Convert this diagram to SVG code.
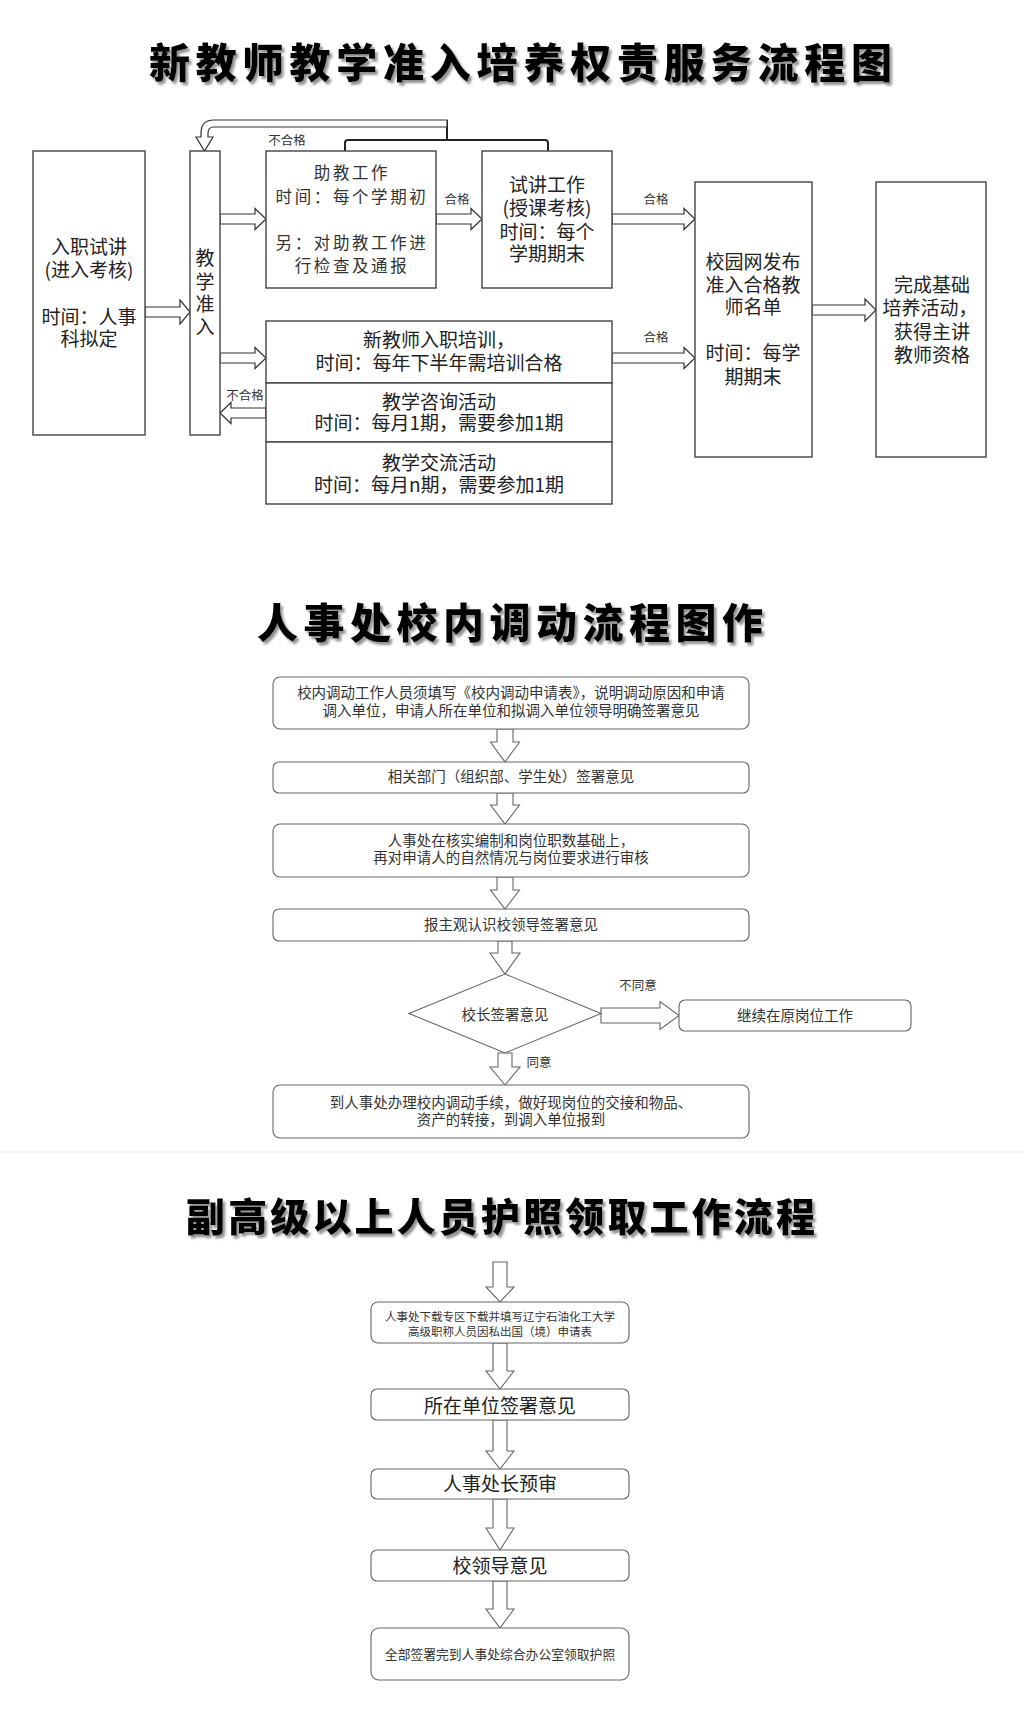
<svg xmlns="http://www.w3.org/2000/svg" width="1024" height="1727" viewBox="0 0 1024 1727">
<defs>
<filter id="sh" x="-5%" y="-20%" width="110%" height="150%">
<feDropShadow dx="2.5" dy="3" stdDeviation="1.2" flood-color="#777" flood-opacity="0.8"/>
</filter>
</defs>
<style>
text{font-family:"Noto Sans CJK SC","Noto Sans",sans-serif;fill:#222;}
.title{font-size:41px;font-weight:900;fill:#000;filter:url(#sh);}
.t19{font-size:19px;text-anchor:middle;}
.t16{font-size:16.5px;text-anchor:middle;letter-spacing:2.6px;fill:#333;}
.t14{font-size:14.5px;text-anchor:middle;fill:#333;}
.t12{font-size:12.5px;text-anchor:middle;fill:#333;}
.t11{font-size:11.5px;text-anchor:middle;fill:#333;}
.t13{font-size:12.8px;text-anchor:middle;fill:#333;}
.box{fill:#fff;stroke:#444;stroke-width:1.4;}
.rbox{fill:#fff;stroke:#666;stroke-width:1.1;}
.arr{fill:#fff;stroke:#333;stroke-width:1.2;stroke-linejoin:miter;}
.arr2{fill:#fff;stroke:#666;stroke-width:1.1;}
.ln{fill:none;stroke:#222;stroke-width:2;}
</style>

<!-- ============ Section 1 ============ -->
<text class="title" x="149" y="78" textLength="743" lengthAdjust="spacing">新教师教学准入培养权责服务流程图</text>

<g id="connectors1">
<polygon class="arr" points="145,307 180,307 180,300 190,312 180,324 180,317 145,317"/>
<polygon class="arr" points="220,214 255,214 255,208.5 266,219 255,229.5 255,224 220,224"/>
<polygon class="arr" points="436,214 471,214 471,208.5 482,219 471,229.5 471,224 436,224"/>
<polygon class="arr" points="612,214 684,214 684,208.5 695,219 684,229.5 684,224 612,224"/>
<polygon class="arr" points="220,353 255,353 255,347.5 266,358 255,368.5 255,363 220,363"/>
<polygon class="arr" points="612,353 684,353 684,347.5 695,358 684,368.5 684,363 612,363"/>
<polygon class="arr" points="812,305 865,305 865,299 876,310 865,321 865,315 812,315"/>
<polygon class="arr" points="266,408 231,408 231,402.5 220,413 231,423.5 231,418 266,418"/>
<path class="ln" d="M345,151 L345,143 Q345,140 348,140 L545,140 Q548,140 548,143 L548,151"/>
<path class="ln" d="M447,120 L447,140"/>
<path class="arr" d="M447,120 L214,120 Q201,120 201,133 L201,137 L196,137 L204.5,151 L213,137 L208,137 L208,133 Q208,127 214,127 L447,127 Z"/>
<text class="t12" x="287" y="145">不合格</text>
<text class="t12" x="457" y="204">合格</text>
<text class="t12" x="656" y="204">合格</text>
<text class="t12" x="656" y="342">合格</text>
<text class="t12" x="245" y="400">不合格</text>
</g>

<g id="n-ruzhi">
<rect class="box" x="33" y="151" width="112" height="284"/>
<text class="t19"><tspan x="89" y="254">入职试讲</tspan><tspan x="89" y="277">(进入考核)</tspan><tspan x="89" y="324">时间：人事</tspan><tspan x="89" y="346">科拟定</tspan></text>
</g>

<g id="n-zhunru">
<rect class="box" x="190" y="151" width="30" height="284"/>
<text class="t19"><tspan x="205" y="265">教</tspan><tspan x="205" y="289">学</tspan><tspan x="205" y="311">准</tspan><tspan x="205" y="334">入</tspan></text>
</g>

<g id="n-zhujiao">
<rect class="box" x="266" y="151" width="170" height="137"/>
<text class="t16"><tspan x="352" y="179">助教工作</tspan><tspan x="352" y="203">时间：每个学期初</tspan><tspan x="352" y="249">另：对助教工作进</tspan><tspan x="352" y="272">行检查及通报</tspan></text>
</g>

<g id="n-shijiang">
<rect class="box" x="482" y="151" width="130" height="137"/>
<text class="t19"><tspan x="547" y="192">试讲工作</tspan><tspan x="547" y="215">(授课考核)</tspan><tspan x="547" y="239">时间：每个</tspan><tspan x="547" y="261">学期期末</tspan></text>
</g>

<g id="n-peixun">
<rect class="box" x="266" y="321" width="346" height="62"/>
<text class="t19"><tspan x="439" y="347">新教师入职培训，</tspan><tspan x="439" y="370">时间：每年下半年需培训合格</tspan></text>
</g>

<g id="n-zixun">
<rect class="box" x="266" y="383" width="346" height="59"/>
<text class="t19"><tspan x="439" y="409">教学咨询活动</tspan><tspan x="439" y="430">时间：每月1期，需要参加1期</tspan></text>
</g>

<g id="n-jiaoliu">
<rect class="box" x="266" y="442" width="346" height="62"/>
<text class="t19"><tspan x="439" y="470">教学交流活动</tspan><tspan x="439" y="492">时间：每月n期，需要参加1期</tspan></text>
</g>

<g id="n-fabu">
<rect class="box" x="695" y="182" width="117" height="275"/>
<text class="t19"><tspan x="753" y="269">校园网发布</tspan><tspan x="753" y="292">准入合格教</tspan><tspan x="753" y="314">师名单</tspan><tspan x="753" y="360">时间：每学</tspan><tspan x="753" y="384">期期末</tspan></text>
</g>

<g id="n-wancheng">
<rect class="box" x="876" y="182" width="110" height="275"/>
<text class="t19"><tspan x="932" y="292">完成基础</tspan><tspan x="930" y="315">培养活动，</tspan><tspan x="932" y="339">获得主讲</tspan><tspan x="932" y="362">教师资格</tspan></text>
</g>

<!-- ============ Section 2 ============ -->
<text class="title" x="257" y="638" textLength="506" lengthAdjust="spacing">人事处校内调动流程图作</text>

<g id="connectors2">
<polygon class="arr2" points="497,729 513,729 513,742 519.5,742 505,762 490.5,742 497,742"/>
<polygon class="arr2" points="497,793 513,793 513,805 519.5,805 505,824 490.5,805 497,805"/>
<polygon class="arr2" points="497,877 513,877 513,890 519.5,890 505,909 490.5,890 497,890"/>
<polygon class="arr2" points="498,941 512,941 512,953 520,953 505,974 490,953 498,953"/>
<polygon class="arr2" points="498,1053 512,1053 512,1067 520,1067 505,1085 490,1067 498,1067"/>
<polygon class="arr2" points="601,1008 660,1008 660,1001.5 679,1015.5 660,1029.5 660,1023 601,1023"/>
<text class="t12" x="638" y="990">不同意</text>
<text class="t12" x="539" y="1067">同意</text>
</g>

<g id="n-s2-1">
<rect class="rbox" x="273" y="677" width="476" height="52" rx="7"/>
<text class="t14"><tspan x="511" y="698">校内调动工作人员须填写《校内调动申请表》，说明调动原因和申请</tspan><tspan x="511" y="716">调入单位，申请人所在单位和拟调入单位领导明确签署意见</tspan></text>
</g>
<g id="n-s2-2">
<rect class="rbox" x="273" y="762" width="476" height="31" rx="6"/>
<text class="t14" x="511" y="782">相关部门（组织部、学生处）签署意见</text>
</g>
<g id="n-s2-3">
<rect class="rbox" x="273" y="824" width="476" height="53" rx="7"/>
<text class="t14"><tspan x="511" y="846">人事处在核实编制和岗位职数基础上，</tspan><tspan x="511" y="863">再对申请人的自然情况与岗位要求进行审核</tspan></text>
</g>
<g id="n-s2-4">
<rect class="rbox" x="273" y="909" width="476" height="32" rx="6"/>
<text class="t14" x="511" y="930">报主观认识校领导签署意见</text>
</g>
<g id="n-s2-5">
<polygon class="rbox" points="505,974 601,1013.5 505,1053 409,1013.5"/>
<text class="t14" x="505" y="1020">校长签署意见</text>
</g>
<g id="n-s2-6">
<rect class="rbox" x="679" y="1000" width="232" height="31" rx="6"/>
<text class="t14" x="795" y="1021">继续在原岗位工作</text>
</g>
<g id="n-s2-7">
<rect class="rbox" x="273" y="1085" width="476" height="53" rx="7"/>
<text class="t14"><tspan x="511" y="1108">到人事处办理校内调动手续，做好现岗位的交接和物品、</tspan><tspan x="511" y="1125">资产的转接，到调入单位报到</tspan></text>
</g>

<line x1="0" y1="1152" x2="1024" y2="1152" stroke="#eeeeee" stroke-width="1.5"/>

<!-- ============ Section 3 ============ -->
<text class="title" x="186" y="1231" style="font-size:39px" textLength="629" lengthAdjust="spacing">副高级以上人员护照领取工作流程</text>

<g id="connectors3">
<polygon class="arr2" points="493,1262 507,1262 507,1287 514,1287 500,1302 486,1287 493,1287"/>
<polygon class="arr2" points="493,1343 507,1343 507,1371 514,1371 500,1389 486,1371 493,1371"/>
<polygon class="arr2" points="493,1420 507,1420 507,1451 514,1451 500,1469 486,1451 493,1451"/>
<polygon class="arr2" points="493,1499 507,1499 507,1528 514,1528 500,1550 486,1528 493,1528"/>
<polygon class="arr2" points="493,1581 507,1581 507,1609 514,1609 500,1628 486,1609 493,1609"/>
</g>

<g id="n-s3-1">
<rect class="rbox" x="371" y="1302" width="258" height="41" rx="7"/>
<text class="t11"><tspan x="500" y="1321">人事处下载专区下载并填写辽宁石油化工大学</tspan><tspan x="500" y="1336">高级职称人员因私出国（境）申请表</tspan></text>
</g>
<g id="n-s3-2">
<rect class="rbox" x="371" y="1389" width="258" height="31" rx="6"/>
<text class="t19" x="500" y="1413">所在单位签署意见</text>
</g>
<g id="n-s3-3">
<rect class="rbox" x="371" y="1469" width="258" height="30" rx="6"/>
<text class="t19" x="500" y="1491">人事处长预审</text>
</g>
<g id="n-s3-4">
<rect class="rbox" x="371" y="1550" width="258" height="31" rx="6"/>
<text class="t19" x="500" y="1573">校领导意见</text>
</g>
<g id="n-s3-5">
<rect class="rbox" x="371" y="1628" width="258" height="52" rx="8"/>
<text class="t13" x="500" y="1659">全部签署完到人事处综合办公室领取护照</text>
</g>
</svg>
